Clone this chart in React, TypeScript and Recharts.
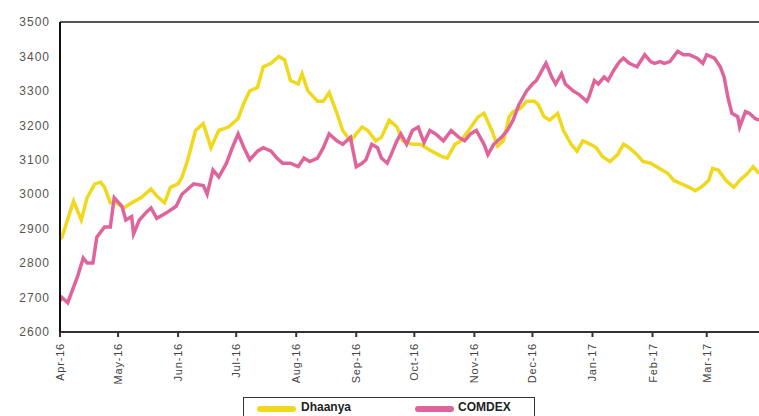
import { LineChart, Line, XAxis, YAxis, ReferenceLine } from 'recharts'

// ─── Data (days counted from 1 Apr 2016) ──────────────────────────────────────

const dhaanyaDays = [
  0, 1, 7, 11, 14, 18, 21, 23, 26, 29, 33, 37, 42, 47, 50, 54, 57, 61, 63, 66,
  70, 74, 78, 82, 87, 92, 95, 98, 102, 105, 109, 113, 116, 119, 123, 125, 128, 133, 136, 139,
  143, 146, 150, 153, 156, 159, 163, 166, 170, 174, 177, 182, 186, 192, 197, 200, 204, 207, 211, 216,
  219, 223, 226, 229, 232, 234, 238, 241, 245, 247, 250, 253, 257, 260, 264, 267, 270, 274, 277, 280,
  284, 288, 291, 294, 298, 301, 305, 311, 314, 317, 321, 325, 328, 331, 335, 337, 340, 344, 348, 351,
  355, 358, 361,
]
const dhaanyaValues = [
  2870, 2875, 2980, 2925, 2990, 3030, 3035, 3020, 2975, 2975, 2960, 2975, 2990, 3015, 2995, 2975, 3020, 3030, 3050, 3100,
  3185, 3205, 3135, 3185, 3195, 3220, 3265, 3300, 3310, 3370, 3380, 3400, 3390, 3330, 3320, 3350, 3300, 3270, 3270, 3295,
  3235, 3185, 3155, 3175, 3195, 3185, 3155, 3165, 3215, 3195, 3155, 3145, 3145, 3125, 3110, 3105, 3145, 3155, 3185, 3225,
  3235, 3185, 3140, 3155, 3225, 3240, 3250, 3270, 3270, 3260, 3225, 3215, 3235, 3185, 3145, 3125, 3155, 3145, 3135, 3110,
  3095, 3115, 3145, 3135, 3115, 3095, 3090, 3070, 3060, 3040, 3030, 3020, 3010, 3020, 3040, 3075, 3070, 3040, 3020, 3040,
  3060, 3080, 3060,
]

const comdexDays = [
  0, 1, 4, 7, 9, 12, 14, 17, 19, 23, 26, 28, 32, 34, 37, 38, 41, 45, 47, 50,
  53, 56, 60, 63, 69, 74, 76, 79, 82, 86, 89, 92, 95, 98, 102, 105, 109, 112, 115, 119,
  123, 126, 129, 133, 136, 139, 143, 146, 150, 153, 156, 158, 161, 164, 166, 169, 171, 174, 176, 179,
  182, 185, 188, 191, 194, 198, 202, 206, 209, 212, 215, 219, 221, 224, 228, 231, 234, 237, 241, 244,
  246, 249, 251, 254, 256, 259, 261, 265, 268, 272, 273, 276, 278, 281, 283, 286, 289, 291, 294, 298,
  302, 305, 307, 310, 312, 315, 319, 322, 325, 329, 332, 334, 338, 341, 343, 345, 347, 350, 351, 354,
  356, 359, 361,
]
const comdexValues = [
  2690, 2700, 2685, 2730, 2760, 2815, 2800, 2800, 2875, 2905, 2905, 2990, 2965, 2925, 2935, 2885, 2925, 2950, 2960, 2930,
  2940, 2950, 2965, 3000, 3030, 3025, 3000, 3070, 3050, 3090, 3135, 3175, 3135, 3100, 3125, 3135, 3125, 3105, 3090, 3090,
  3080, 3105, 3095, 3105, 3135, 3175, 3155, 3145, 3165, 3080, 3090, 3100, 3145, 3135, 3105, 3090, 3115, 3155, 3175, 3145,
  3185, 3195, 3150, 3185, 3175, 3155, 3185, 3165, 3155, 3175, 3185, 3145, 3115, 3145, 3165, 3185, 3215, 3260, 3300, 3320,
  3330, 3360, 3380, 3340, 3320, 3350, 3320, 3300, 3290, 3270, 3280, 3330, 3320, 3340, 3330, 3360, 3385, 3395, 3380, 3370,
  3405, 3385, 3380, 3385, 3380, 3385, 3415, 3405, 3405, 3395, 3380, 3405, 3395, 3370, 3340, 3280, 3235, 3225, 3195, 3240,
  3235, 3220, 3215,
]

const monthTickDays = [0, 30, 61, 91, 122, 153, 183, 214, 244, 275, 306, 334]
const monthLabels = [
  'Apr-16', 'May-16', 'Jun-16', 'Jul-16', 'Aug-16', 'Sep-16',
  'Oct-16', 'Nov-16', 'Dec-16', 'Jan-17', 'Feb-17', 'Mar-17',
]
const yTicks = [2600, 2700, 2800, 2900, 3000, 3100, 3200, 3300, 3400, 3500]

const YELLOW = '#f0d91c'
const PINK = '#e0649c'
const FONT = "Arial, 'Liberation Sans', sans-serif"

const dhaanyaData = dhaanyaDays.map((d, i) => ({ day: d, value: dhaanyaValues[i] }))
const comdexData = comdexDays.map((d, i) => ({ day: d, value: comdexValues[i] }))

// ─── Rotated month tick ───────────────────────────────────────────────────────

function MonthTick({ x, y, payload }: any) {
  const idx = monthTickDays.indexOf(payload.value)
  return (
    <g transform={`translate(${x},${y + 4})`}>
      <text
        transform="rotate(-90)"
        textAnchor="end"
        dy={4}
        fontSize={11}
        letterSpacing={0.8}
        fill="#444"
        fontFamily={FONT}
      >
        {monthLabels[idx]}
      </text>
    </g>
  )
}

// ─── Component ────────────────────────────────────────────────────────────────

export default function App() {
  return (
    <div
      style={{
        position: 'absolute',
        left: 0,
        top: 0,
        width: 759,
        height: 416,
        background: '#fff',
        overflow: 'hidden',
        fontFamily: FONT,
      }}
    >
      <LineChart width={759} height={416} margin={{ top: 22, right: 0, left: 0, bottom: 34 }}>
        <XAxis
          type="number"
          dataKey="day"
          domain={[0, 361]}
          ticks={monthTickDays}
          tick={<MonthTick />}
          interval={0}
          height={50}
          stroke="#333"
          strokeWidth={2}
          tickSize={5}
          allowDataOverflow
        />
        <YAxis
          type="number"
          domain={[2600, 3500]}
          ticks={yTicks}
          width={60}
          tickLine={false}
          tickMargin={4}
          stroke="#111"
          strokeWidth={2}
          tick={{ fontSize: 12, fill: '#555', fontFamily: FONT, letterSpacing: 1 }}
          allowDataOverflow
        />
        <ReferenceLine y={3500} stroke="#555" strokeWidth={2} ifOverflow="extendDomain" />
        <Line
          data={dhaanyaData}
          dataKey="value"
          type="linear"
          stroke={YELLOW}
          strokeWidth={3.5}
          dot={false}
          isAnimationActive={false}
          name="Dhaanya"
        />
        <Line
          data={comdexData}
          dataKey="value"
          type="linear"
          stroke={PINK}
          strokeWidth={3.5}
          dot={false}
          isAnimationActive={false}
          name="COMDEX"
        />
      </LineChart>

      {/* Legend box, cut off at the bottom edge as in the source */}
      <div
        style={{
          position: 'absolute',
          left: 243,
          top: 397,
          width: 292,
          height: 30,
          border: '1.5px solid #333',
          boxSizing: 'border-box',
          fontSize: 12,
          fontWeight: 700,
          color: '#222',
        }}
      >
        <div style={{ position: 'absolute', left: 13, top: 8, width: 39, height: 6, borderRadius: 3, background: YELLOW }} />
        <div style={{ position: 'absolute', left: 57, top: 2 }}>Dhaanya</div>
        <div style={{ position: 'absolute', left: 171, top: 8, width: 39, height: 6, borderRadius: 3, background: PINK }} />
        <div style={{ position: 'absolute', left: 214, top: 2 }}>COMDEX</div>
      </div>
    </div>
  )
}
